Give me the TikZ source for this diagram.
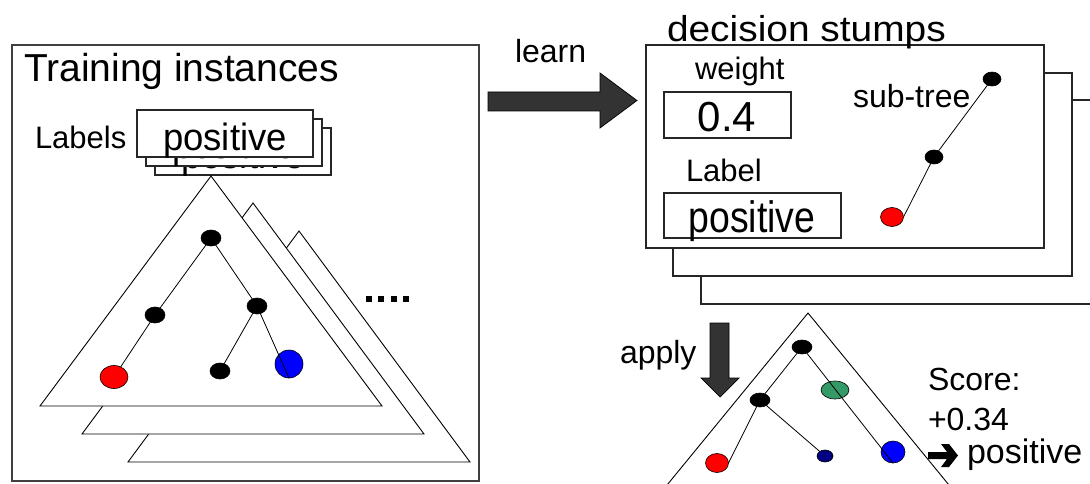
\documentclass[tikz,border=0pt]{standalone}
\usepackage{fontspec}
\setmainfont{Liberation Sans}
\usetikzlibrary{shapes.geometric}
\definecolor{arrowgray}{HTML}{333333}
\definecolor{leafred}{HTML}{FF0000}
\definecolor{leafblue}{HTML}{0000FF}
\definecolor{leafgreen}{HTML}{339966}
\definecolor{leafnavy}{HTML}{000080}
\newcommand{\fs}[1]{\fontsize{#1}{#1}\selectfont}
\begin{document}
\begin{tikzpicture}[x=1pt,y=-1pt,
  every node/.style={inner sep=0pt, outer sep=0pt},
  frame/.style={draw=black!75, line width=1.3pt, fill=white, rectangle, anchor=north west},
  card/.style={draw=black!85, line width=1.1pt, fill=white, rectangle, anchor=north west},
  tri/.style={draw=black, line width=0.9pt, fill=white, line join=miter},
  vtx/.style 2 args={ellipse, draw=black, line width=0.6pt, fill=black,
                     minimum width=#1, minimum height=#2},
  edge/.style={draw=black, line width=0.8pt},
  bigarrow/.style={draw=black, line width=0.7pt, fill=arrowgray, line join=miter},
  txt/.style={anchor=base west, font=\fs{#1}},
  ctxt/.style={anchor=base, font=\fs{#1}},
]
\useasboundingbox (0,0) rectangle (1090,484);
\clip (0,0) rectangle (1090,484);

% ---------------- training instances panel ----------------
\node[frame, minimum width=467pt, minimum height=436pt] (train) at (12,45) {};
\node[txt=39] (trainTitle) at (24,82) {Training instances};
\node[txt=31] (labelsTxt) at (35,149) {Labels};

% stacked label cards, back to front
\foreach \k/\d in {2/18,1/9,0/0}{
  \node[card, minimum width=176pt, minimum height=47pt] (lab\k) at (137+\d,110+\d) {};
  \node[ctxt=38] (labtxt\k) at (225+\d,150+\d) {\scalebox{0.96}[1]{positive}};
}

% stacked trees, back to front
\draw[tri] (299,231) -- (470,462) -- (128,462) -- cycle;
\draw[tri] (253,203) -- (424,434) -- (82,434) -- cycle;
\draw[tri] (211,176) -- (382,406) -- (40,406) -- cycle;

% tree of the front instance
\node[vtx={20pt}{16pt}] (tr) at (211,238) {};
\node[vtx={20pt}{16pt}] (tl) at (155,315) {};
\node[vtx={20pt}{16pt}] (tm) at (257,306) {};
\node[vtx={28pt}{23pt}, fill=leafred] (tred) at (114,377) {};
\node[vtx={20pt}{16pt}] (tleaf) at (220,371) {};
\node[vtx={28pt}{28pt}, fill=leafblue] (tblue) at (289,364) {};
\draw[edge] (tr) -- (tl);
\draw[edge] (tr) -- (tm);
\draw[edge] (tl) -- (tred);
\draw[edge] (tm) -- (tleaf);
\draw[edge] (tm) -- (tblue.south);

% ellipsis dots
\foreach \i in {0,...,3}
  \fill (365.7+\i*12.5,296) rectangle ++(6,6);

% ---------------- learn arrow ----------------
\node[txt=32] (learnTxt) at (515,63) {learn};
\draw[bigarrow] (488,92) -- (600,92) -- (600,73) -- (637,100.5)
  -- (600,128) -- (600,111) -- (488,111) -- cycle;

% ---------------- decision stumps ----------------
\node[card, minimum width=420pt, minimum height=204pt] (stump3) at (701,100) {};
\node[card, minimum width=399pt, minimum height=203pt] (stump2) at (673,73) {};
\node[card, minimum width=398pt, minimum height=203pt] (stump1) at (646,45) {};
\node[txt=36] (stumpTitle) at (667,42) {\scalebox{1.08}[1]{decision stumps}};

\node[txt=31] (weightTxt) at (695,80) {weight};
\node[card, minimum width=127pt, minimum height=46pt] (wbox) at (664,92) {};
\node[ctxt=42] (wval) at (727,132) {0.4};

\node[txt=31] (labelTxt) at (686,182) {Label};
\node[card, minimum width=177pt, minimum height=45pt] (lbox) at (664,193) {};
\node[ctxt=44] (lval) at (752,232) {\scalebox{0.85}[1]{positive}};

\node[txt=32] (subTxt) at (853,108) {sub-tree};
\node[vtx={18pt}{14pt}] (st) at (992,79) {};
\node[vtx={18pt}{14pt}] (sm) at (934,157) {};
\node[vtx={23pt}{19pt}, fill=leafred] (sred) at (892,217) {};
\draw[edge] (st) -- (sm);
\draw[edge] (sm) -- (sred.east);

% ---------------- apply arrow ----------------
\node[txt=32] (applyTxt) at (620,363) {apply};
\draw[bigarrow] (710,323) -- (729,323) -- (729,378) -- (739,378) -- (720,397)
  -- (701,378) -- (710,378) -- cycle;

% ---------------- scored instance ----------------
\draw[tri] (808,313) -- (976,518) -- (640,518) -- cycle;
\node[vtx={20pt}{14pt}] (br) at (802,347) {};
\node[vtx={20pt}{14pt}] (bl) at (760,400) {};
\node[vtx={28pt}{18pt}, fill=leafgreen] (bgreen) at (835,390) {};
\node[vtx={24pt}{22pt}, fill=leafblue] (bblue) at (893,452) {};
\node[vtx={23pt}{19pt}, fill=leafred] (bred) at (717,463) {};
\node[vtx={16pt}{12pt}, fill=leafnavy] (bnavy) at (825,456) {};
\draw[edge] (br) -- (bl);
\draw[edge] (br) -- (bblue.south);
\draw[edge] (bl) -- (bred.east);
\draw[edge] (bl) -- (bnavy);

\node[txt=32] (scoreTxt) at (928,390) {Score:};
\node[txt=32] (scoreVal) at (928,430) {+0.34};
% heavy chevron arrow before the predicted label
\fill (928,452) -- (947,452) -- (941,444) -- (949,444) -- (958,455.5)
  -- (949,467) -- (941,467) -- (947,459) -- (928,459) -- cycle;
\node[txt=34] (scoreLabel) at (967,463) {positive};
\end{tikzpicture}
\end{document}
